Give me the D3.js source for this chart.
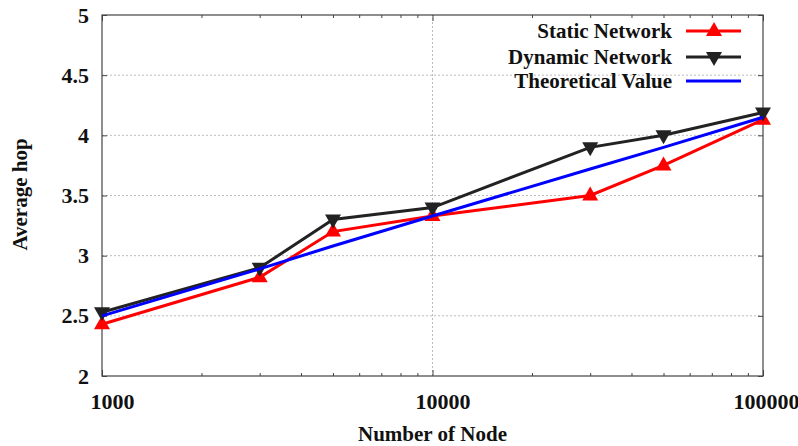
<!DOCTYPE html>
<html>
<head>
<meta charset="utf-8">
<style>
    body { margin: 0; background: #fff; }
    svg { display: block; font-family: 'Liberation Serif', 'Times New Roman', serif; font-weight: bold; }
    .grid line { stroke: #bbb; stroke-dasharray: 2 2; }
    .axis .domain { display: none; }
    .axis .tick line { stroke: #444; }
    .axis text { font-size: 22px; fill: #111; font-family: 'Liberation Serif', serif; font-weight: bold; }
</style>
</head>
<body>
<svg width="798" height="446"></svg>
<script src="https://d3js.org/d3.v7.min.js"></script>
<script>
    const nodes = [1000, 3000, 5000, 10000, 30000, 50000, 100000];
    const staticHop = [2.43, 2.82, 3.2, 3.33, 3.5, 3.75, 4.13];
    const dynamicHop = [2.53, 2.9, 3.3, 3.4, 3.9, 4.0, 4.19];
    const theoryHop = [2.5, 2.89, 3.08, 3.33, 3.72, 3.9, 4.15];
    const xMajor = [1000, 10000, 100000];
    const yTicks = [2, 2.5, 3, 3.5, 4, 4.5, 5];
    const seriesNames = ["Static Network", "Dynamic Network", "Theoretical Value"];

    let margin = { top: 15, right: 35, bottom: 70, left: 102 };
    let width = 798, height = 446;

    let svg = d3.select("svg");

    let x = d3.scaleLog()
        .domain([1000, 100000])
        .range([margin.left, width - margin.right]);

    let y = d3.scaleLinear()
        .domain([2, 5])
        .range([height - margin.bottom, margin.top]);

    // minor ticks for the log axis
    let xMinor = [];
    [1000, 10000].forEach(d => { for (let k = 2; k <= 9; k++) xMinor.push(d * k); });

    // grid
    let grid = svg.append("g").attr("class", "grid");
    grid.selectAll(".h").data(yTicks.slice(1, -1)).join("line")
        .attr("x1", x.range()[0]).attr("x2", x.range()[1])
        .attr("y1", d => y(d)).attr("y2", d => y(d));
    grid.selectAll(".v").data([10000]).join("line")
        .attr("x1", d => x(d)).attr("x2", d => x(d))
        .attr("y1", y.range()[0]).attr("y2", y.range()[1]);

    // frame
    svg.append("rect")
        .attr("x", x.range()[0]).attr("y", y.range()[1])
        .attr("width", x.range()[1] - x.range()[0])
        .attr("height", y.range()[0] - y.range()[1])
        .attr("fill", "none").attr("stroke", "#444").attr("stroke-width", 1.2);

    // x axis bottom (major with labels)
    let labelShift = [10, 10, 3];
    svg.append("g").attr("class", "x axis")
        .attr("transform", `translate(0,${y.range()[0]})`)
        .call(d3.axisBottom(x).tickValues(xMajor).tickSize(-6).tickPadding(17).tickFormat(d3.format("d")))
        .selectAll("text").attr("dx", (d, i) => labelShift[i]);
    svg.append("g").attr("class", "x axis")
        .attr("transform", `translate(0,${y.range()[0]})`)
        .call(d3.axisBottom(x).tickValues(xMinor).tickSize(-3).tickFormat(""));
    // x axis top
    svg.append("g").attr("class", "x axis")
        .attr("transform", `translate(0,${y.range()[1]})`)
        .call(d3.axisTop(x).tickValues(xMajor).tickSize(-6).tickFormat(""));
    svg.append("g").attr("class", "x axis")
        .attr("transform", `translate(0,${y.range()[1]})`)
        .call(d3.axisTop(x).tickValues(xMinor).tickSize(-3).tickFormat(""));

    // y axes
    svg.append("g").attr("class", "y axis")
        .attr("transform", `translate(${x.range()[0]},0)`)
        .call(d3.axisLeft(y).tickValues(yTicks).tickSize(-5).tickPadding(13).tickFormat(d3.format("")));
    svg.append("g").attr("class", "y axis")
        .attr("transform", `translate(${x.range()[1]},0)`)
        .call(d3.axisRight(y).tickValues(yTicks).tickSize(-5).tickFormat(""));

    // axis titles
    svg.append("text")
        .attr("x", (x.range()[0] + x.range()[1]) / 2)
        .attr("y", 441)
        .attr("text-anchor", "middle")
        .attr("font-size", "21px")
        .attr("fill", "#111")
        .text("Number of Node");

    svg.append("text")
        .attr("transform", `translate(27,${(y.range()[0] + y.range()[1]) / 2 - 1}) rotate(-90)`)
        .attr("text-anchor", "middle")
        .attr("font-size", "21px")
        .attr("fill", "#111")
        .text("Average hop");

    let line = d3.line().x(d => x(d[0])).y(d => y(d[1]));
    let triUp = "M0,-9L8,5L-8,5Z";
    let triDown = "M0,9L8,-5L-8,-5Z";

    let series = [
        { name: seriesNames[0], values: staticHop, color: "#ff0000", marker: triUp },
        { name: seriesNames[1], values: dynamicHop, color: "#222222", marker: triDown },
        { name: seriesNames[2], values: theoryHop, color: "#0000ff", marker: null }
    ];

    series.forEach(s => {
        let pts = nodes.map((n, i) => [n, s.values[i]]);
        svg.append("path")
            .datum(pts)
            .attr("fill", "none")
            .attr("stroke", s.color)
            .attr("stroke-width", 3)
            .attr("d", line);
        if (s.marker) {
            svg.append("g").selectAll("path").data(pts).join("path")
                .attr("transform", d => `translate(${x(d[0])},${y(d[1])})`)
                .attr("d", s.marker)
                .attr("fill", s.color);
        }
    });

    // legend
    let legend = svg.append("g").attr("class", "legend");
    let legY = [31, 57, 81];
    series.forEach((s, i) => {
        legend.append("text")
            .attr("x", 672).attr("y", legY[i])
            .attr("dy", "0.35em")
            .attr("text-anchor", "end")
            .attr("font-size", "21px")
            .attr("fill", "#111")
            .text(s.name);
        legend.append("line")
            .attr("x1", 686).attr("x2", 741)
            .attr("y1", legY[i]).attr("y2", legY[i])
            .attr("stroke", s.color).attr("stroke-width", 3);
        if (s.marker) {
            legend.append("path")
                .attr("transform", `translate(714,${legY[i]})`)
                .attr("d", s.marker)
                .attr("fill", s.color);
        }
    });
</script>
</body>
</html>
